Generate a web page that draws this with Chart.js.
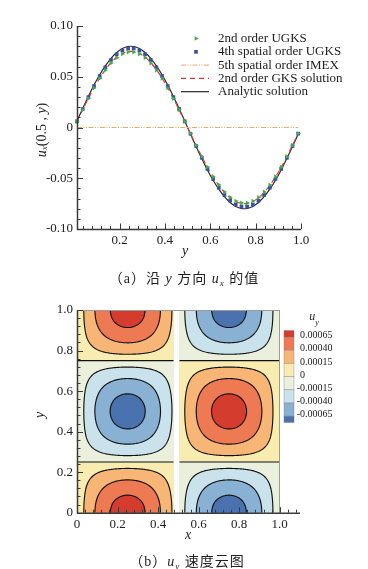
<!DOCTYPE html>
<html>
<head>
<meta charset="utf-8">
<script src="https://cdn.jsdelivr.net/npm/chart.js@4.4.1/dist/chart.umd.min.js"></script>
<style>
  body { margin: 0; background: #fff; }
  #wrap { position: relative; width: 368px; height: 569px; overflow: hidden; background: #fff; }
  #wrap canvas { position: absolute; left: 0; }
  .cap { position: absolute; width: 368px; text-align: center; line-height: 16px; letter-spacing: 1px;
         font: 14px "Liberation Serif", "Noto Sans CJK SC", serif; color: #222; white-space: nowrap; }
  .cap sub { font-size: 9px; vertical-align: -3px; line-height: 0; }
</style>
</head>
<body>
<div id="wrap">
  <canvas id="lineChart" width="368" height="290" style="top:0"></canvas>
  <canvas id="floodChart" width="368" height="279" style="top:290px"></canvas>
  <div class="cap" style="left:0; top:267px">（a）沿 <i>y</i> 方向 <i>u<sub>x</sub></i> 的值</div>
  <div class="cap" style="left:3px; top:550px">（b）<i>u<sub>y</sub></i> 速度云图</div>
</div>
<script>
// ---- (a) u_x(0.5, y) along the vertical centre line, 40 cell centres
const yPos = [0.0125, 0.0375, 0.0625, 0.0875, 0.1125, 0.1375, 0.1625, 0.1875, 0.2125, 0.2375,
  0.2625, 0.2875, 0.3125, 0.3375, 0.3625, 0.3875, 0.4125, 0.4375, 0.4625, 0.4875,
  0.5125, 0.5375, 0.5625, 0.5875, 0.6125, 0.6375, 0.6625, 0.6875, 0.7125, 0.7375,
  0.7625, 0.7875, 0.8125, 0.8375, 0.8625, 0.8875, 0.9125, 0.9375, 0.9625, 0.9875];

const ugks2nd = [0.0058, 0.0174, 0.0285, 0.0389, 0.0484, 0.0566, 0.0635, 0.0688, 0.0724, 0.0743,
  0.0743, 0.0724, 0.0688, 0.0635, 0.0566, 0.0484, 0.0389, 0.0285, 0.0174, 0.0058,
  -0.0058, -0.0174, -0.0285, -0.0389, -0.0484, -0.0566, -0.0635, -0.0688, -0.0724, -0.0743,
  -0.0743, -0.0724, -0.0688, -0.0635, -0.0566, -0.0484, -0.0389, -0.0285, -0.0174, -0.0058];

const ugks4th = [0.0061, 0.0182, 0.0299, 0.0408, 0.0507, 0.0593, 0.0665, 0.0721, 0.0758, 0.0778,
  0.0778, 0.0758, 0.0721, 0.0665, 0.0593, 0.0507, 0.0408, 0.0299, 0.0182, 0.0061,
  -0.0061, -0.0182, -0.0299, -0.0408, -0.0507, -0.0593, -0.0665, -0.0721, -0.0758, -0.0778,
  -0.0778, -0.0758, -0.0721, -0.0665, -0.0593, -0.0507, -0.0408, -0.0299, -0.0182, -0.0061];

const imex5th = [0, 0, 0, 0, 0, 0, 0, 0, 0, 0, 0, 0, 0, 0, 0, 0, 0, 0, 0, 0,
  0, 0, 0, 0, 0, 0, 0, 0, 0, 0, 0, 0, 0, 0, 0, 0, 0, 0, 0, 0];

const gks2nd = [0.0059, 0.0175, 0.0287, 0.0392, 0.0487, 0.0570, 0.0639, 0.0693, 0.0729, 0.0748,
  0.0748, 0.0729, 0.0693, 0.0639, 0.0570, 0.0487, 0.0392, 0.0287, 0.0175, 0.0059,
  -0.0059, -0.0175, -0.0287, -0.0392, -0.0487, -0.0570, -0.0639, -0.0693, -0.0729, -0.0748,
  -0.0748, -0.0729, -0.0693, -0.0639, -0.0570, -0.0487, -0.0392, -0.0287, -0.0175, -0.0059];

const analytic = [0.0063, 0.0187, 0.0306, 0.0418, 0.0520, 0.0608, 0.0682, 0.0739, 0.0778, 0.0798,
  0.0798, 0.0778, 0.0739, 0.0682, 0.0608, 0.0520, 0.0418, 0.0306, 0.0187, 0.0063,
  -0.0063, -0.0187, -0.0306, -0.0418, -0.0520, -0.0608, -0.0682, -0.0739, -0.0778, -0.0798,
  -0.0798, -0.0778, -0.0739, -0.0682, -0.0608, -0.0520, -0.0418, -0.0306, -0.0187, -0.0063];

const xTicksTop = [0.2, 0.4, 0.6, 0.8, 1.0];
const xTickLabelsTop = ['0.2', '0.4', '0.6', '0.8', '1.0'];
const yTicksTop = [-0.1, -0.05, 0, 0.05, 0.1];
const yTickLabelsTop = ['-0.10', '-0.05', '0', '0.05', '0.10'];

// ---- (b) u_y flood: field read as amplitude * column profile * row profile
const fieldAmp = 0.00076;
const profilePos = [0, 0.05, 0.1, 0.15, 0.2, 0.25, 0.3, 0.35, 0.4, 0.45, 0.5,
  0.55, 0.6, 0.65, 0.7, 0.75, 0.8, 0.85, 0.9, 0.95, 1.0];
const xProfile = [0, 0.309, 0.588, 0.809, 0.951, 1, 0.951, 0.809, 0.588, 0.309, 0,
  -0.309, -0.588, -0.809, -0.951, -1, -0.951, -0.809, -0.588, -0.309, 0];
const yProfile = [1, 0.951, 0.809, 0.588, 0.309, 0, -0.309, -0.588, -0.809, -0.951, -1,
  -0.951, -0.809, -0.588, -0.309, 0, 0.309, 0.588, 0.809, 0.951, 1];
const contourLevels = [0.00065, 0.0004, 0.00015, 0, -0.00015, -0.0004, -0.00065];
const levelLabels = ['0.00065', '0.00040', '0.00015', '0', '-0.00015', '-0.00040', '-0.00065'];
const bandColors = ['#d43c2e', '#ee7a54', '#f8b676', '#f9ecb0', '#eaf0dc', '#c9e2ec', '#88b1d3', '#4a72ae'];
const gapFrom = 0.477, gapTo = 0.502;   // blank strip at x = 0.5 in the picture

const xTicksBottom = [0, 0.2, 0.4, 0.6, 0.8, 1.0];
const xTickLabelsBottom = ['0', '0.2', '0.4', '0.6', '0.8', '1.0'];
const yTicksBottom = [0, 0.2, 0.4, 0.6, 0.8, 1.0];
const yTickLabelsBottom = ['0', '0.2', '0.4', '0.6', '0.8', '1.0'];

const SERIF = "'Liberation Serif', 'Times New Roman', serif";
const toXY = arr => arr.map((v, i) => ({ x: yPos[i], y: v }));

// inward ticks + axis lines, Tecplot style
const axisTicks = {
  id: 'axisTicks',
  afterDatasetsDraw(chart, args, o) {
    const { ctx, chartArea: a, scales: { x, y } } = chart;
    ctx.save();
    ctx.strokeStyle = '#3a3a3a';
    ctx.lineWidth = 1;
    ctx.beginPath();
    const minorVals = (s, step) => {
      const out = [];
      for (let k = Math.ceil(s.min / step - 1e-6); k * step <= s.max + 1e-9; k++) out.push(k * step);
      return out;
    };
    const isMajor = (s, v) => s.ticks.some(t => Math.abs(t.value - v) < 1e-6);
    minorVals(x, o.xMinor).forEach(v => {
      if (isMajor(x, v)) return;
      const px = Math.round(x.getPixelForValue(v)) + 0.5;
      ctx.moveTo(px, a.bottom); ctx.lineTo(px, a.bottom - 3);
    });
    x.ticks.forEach(t => {
      const px = Math.round(x.getPixelForValue(t.value)) + 0.5;
      ctx.moveTo(px, a.bottom); ctx.lineTo(px, a.bottom - 5.5);
    });
    const yLeft = Math.round(a.left) + 0.5;
    minorVals(y, o.yMinor).forEach(v => {
      if (isMajor(y, v)) return;
      const py = Math.round(y.getPixelForValue(v)) + 0.5;
      ctx.moveTo(yLeft, py); ctx.lineTo(yLeft + 3, py);
    });
    y.ticks.forEach(t => {
      const py = Math.round(y.getPixelForValue(t.value)) + 0.5;
      ctx.moveTo(yLeft, py); ctx.lineTo(yLeft + 5.5, py);
    });
    ctx.stroke();
    ctx.lineWidth = 1.5;
    ctx.beginPath();
    ctx.moveTo(yLeft, a.top); ctx.lineTo(yLeft, a.bottom + 0.5);
    ctx.lineTo(a.right, a.bottom + 0.5);
    ctx.stroke();
    ctx.restore();
  }
};

// rich axis titles (italic / subscripts)
function drawRich(ctx, parts, cx, cy, rotate) {
  ctx.save();
  ctx.translate(cx, cy);
  if (rotate) ctx.rotate(-Math.PI / 2);
  ctx.fillStyle = '#222';
  ctx.textBaseline = 'middle';
  let total = 0;
  parts.forEach(p => { ctx.font = p.font; total += ctx.measureText(p.t).width; });
  let xx = -total / 2;
  parts.forEach(p => {
    ctx.font = p.font;
    ctx.fillText(p.t, xx, p.dy || 0);
    xx += ctx.measureText(p.t).width;
  });
  ctx.restore();
}

const topDecor = {
  id: 'topDecor',
  afterDraw(chart) {
    const { ctx } = chart;
    // y title  u_x(0.5 , y)
    drawRich(ctx, [
      { t: 'u', font: `italic 14px ${SERIF}` },
      { t: 'x', font: `italic 9px ${SERIF}`, dy: 3 },
      { t: '(0.5 , ', font: `14px ${SERIF}` },
      { t: 'y', font: `italic 14px ${SERIF}` },
      { t: ')', font: `14px ${SERIF}` }
    ], 42, 130, true);
    drawRich(ctx, [{ t: 'y', font: `italic 14px ${SERIF}` }], 185, 251, false);

    // legend, top right
    ctx.save();
    chart.data.datasets.forEach((ds, i) => {
      const yy = 38.5 + i * 13.3;
      if (ds.showLine === false) {
        ctx.fillStyle = ds.pointBackgroundColor;
        ctx.strokeStyle = ds.pointBackgroundColor;
        Chart.helpers.drawPoint(ctx, {
          pointStyle: ds.pointStyle, radius: ds.pointRadius, rotation: ds.rotation || 0, borderWidth: 0
        }, 196, yy);
      } else {
        ctx.strokeStyle = ds.borderColor;
        ctx.lineWidth = ds.borderWidth;
        ctx.setLineDash(ds.borderDash || []);
        ctx.beginPath();
        ctx.moveTo(181, yy); ctx.lineTo(209, yy);
        ctx.stroke();
        ctx.setLineDash([]);
      }
      ctx.fillStyle = '#222';
      ctx.font = `13px ${SERIF}`;
      ctx.textBaseline = 'middle';
      ctx.fillText(ds.label, 218, yy);
    });
    ctx.restore();
  }
};

new Chart(document.getElementById('lineChart'), {
  type: 'line',
  data: {
    datasets: [
      { label: '2nd order UGKS', data: toXY(ugks2nd), showLine: false, pointStyle: 'triangle', rotation: 90,
        pointRadius: 2.7, pointBackgroundColor: '#43ad4c', pointBorderWidth: 0, clip: false },
      { label: '4th spatial order UGKS', data: toXY(ugks4th), showLine: false, pointStyle: 'rect',
        pointRadius: 2.6, pointBackgroundColor: '#3b4fa6', pointBorderWidth: 0, clip: false },
      { label: '5th spatial order IMEX', data: toXY(imex5th), borderColor: '#f3a765', borderWidth: 1,
        borderDash: [5, 1.5, 1, 1.5, 1, 1.5], pointRadius: 0, clip: false },
      { label: '2nd order GKS solution', data: toXY(gks2nd), borderColor: '#e2372f', borderWidth: 1.2,
        borderDash: [5, 4], pointRadius: 0, tension: 0.3, clip: false },
      { label: 'Analytic solution', data: toXY(analytic), borderColor: '#2b2b2b', borderWidth: 1.2,
        pointRadius: 0, tension: 0.3, clip: false }
    ]
  },
  options: {
    responsive: false,
    animation: false,
    events: [],
    layout: { padding: { top: 26, right: 67, bottom: 0, left: 0 } },
    plugins: { legend: { display: false }, tooltip: { enabled: false }, axisTicks: { xMinor: 0.04, yMinor: 0.01 } },
    scales: {
      x: {
        type: 'linear', min: 0.0125, max: 1.0,
        afterBuildTicks: s => { s.ticks = xTicksTop.map(v => ({ value: v })); },
        afterFit: s => { s.height = 61; },
        grid: { display: false, drawTicks: false },
        border: { display: false },
        ticks: { padding: 4, color: '#222', maxRotation: 0, autoSkip: false,
          font: { family: SERIF, size: 13 }, callback: (v, i) => xTickLabelsTop[i] }
      },
      y: {
        type: 'linear', min: -0.1, max: 0.1,
        afterBuildTicks: s => { s.ticks = yTicksTop.map(v => ({ value: v })); },
        afterFit: s => { s.width = 77; },
        grid: { display: false, drawTicks: false },
        border: { display: false },
        ticks: { padding: 4, color: '#222', autoSkip: false,
          font: { family: SERIF, size: 13 }, callback: (v, i) => yTickLabelsTop[i] }
      }
    }
  },
  plugins: [axisTicks, topDecor]
});

// ---- flood contour
function sampleProfile(p, v) {
  const step = profilePos[1] - profilePos[0];
  const t = (v - profilePos[0]) / step;
  const i = Math.floor(t), f = t - i;
  const at = k => p[Math.max(0, Math.min(p.length - 1, k))];
  const p0 = at(i - 1), p1 = at(i), p2 = at(i + 1), p3 = at(i + 2);
  return 0.5 * (2 * p1 + (-p0 + p2) * f + (2 * p0 - 5 * p1 + 4 * p2 - p3) * f * f +
    (-p0 + 3 * p1 - 3 * p2 + p3) * f * f * f);
}
function bandOf(v) {
  for (let k = 0; k < contourLevels.length; k++) if (v > contourLevels[k]) return k;
  return contourLevels.length;
}
const hexRgb = h => [1, 3, 5].map(k => parseInt(h.slice(k, k + 2), 16));

const floodPlugin = {
  id: 'flood',
  beforeDatasetsDraw(chart) {
    const { ctx, scales: { x, y } } = chart;
    const px0 = Math.round(x.getPixelForValue(0)), px1 = Math.round(x.getPixelForValue(1));
    const py0 = Math.round(y.getPixelForValue(1)), py1 = Math.round(y.getPixelForValue(0));
    const w = px1 - px0, h = py1 - py0;
    const colP = [], rowP = [], gap = [];
    for (let i = 0; i < w; i++) {
      const xv = x.getValueForPixel(px0 + i + 0.5);
      colP.push(sampleProfile(xProfile, xv));
      gap.push(xv > gapFrom && xv < gapTo);
    }
    for (let j = 0; j < h; j++) rowP.push(sampleProfile(yProfile, y.getValueForPixel(py0 + j + 0.5)));

    const rgb = bandColors.map(hexRgb);
    const off = document.createElement('canvas');
    off.width = w; off.height = h;
    const octx = off.getContext('2d');
    const img = octx.createImageData(w, h);
    const vals = new Float64Array(w * h);
    for (let j = 0; j < h; j++) {
      for (let i = 0; i < w; i++) {
        const v = fieldAmp * colP[i] * rowP[j];
        vals[j * w + i] = v;
        if (gap[i]) continue;
        const c = rgb[bandOf(v)], k = (j * w + i) * 4;
        img.data[k] = c[0]; img.data[k + 1] = c[1]; img.data[k + 2] = c[2]; img.data[k + 3] = 255;
      }
    }
    octx.putImageData(img, 0, 0);
    ctx.drawImage(off, px0, py0);

    // contour lines, marching squares over the pixel-centre grid
    ctx.save();
    ctx.beginPath();
    const frac = (p, q, l) => (p === q ? 0.5 : Math.min(1, Math.max(0, (l - p) / (q - p))));
    for (let j = 0; j < h - 1; j++) {
      for (let i = 0; i < w - 1; i++) {
        if (gap[i] || gap[i + 1]) continue;
        const a = vals[j * w + i], b = vals[j * w + i + 1];
        const c = vals[(j + 1) * w + i + 1], d = vals[(j + 1) * w + i];
        for (const l of contourLevels) {
          const sa = a >= l, sb = b >= l, sc = c >= l, sd = d >= l;
          const pts = [];
          if (sa !== sb) pts.push([i + frac(a, b, l), j]);
          if (sb !== sc) pts.push([i + 1, j + frac(b, c, l)]);
          if (sd !== sc) pts.push([i + frac(d, c, l), j + 1]);
          if (sa !== sd) pts.push([i, j + frac(a, d, l)]);
          for (let k = 0; k + 1 < pts.length; k += 2) {
            ctx.moveTo(px0 + 0.5 + pts[k][0], py0 + 0.5 + pts[k][1]);
            ctx.lineTo(px0 + 0.5 + pts[k + 1][0], py0 + 0.5 + pts[k + 1][1]);
          }
        }
      }
    }
    ctx.strokeStyle = '#111';
    ctx.lineWidth = 1.15;
    ctx.stroke();
    // zone outline
    ctx.strokeStyle = '#9a9a9a';
    ctx.lineWidth = 1;
    ctx.strokeRect(px0 + 0.5, py0 + 0.5, w - 1, h);
    ctx.restore();
  },
  afterDraw(chart) {
    const { ctx } = chart;
    drawRich(ctx, [{ t: 'y', font: `italic 14px ${SERIF}` }], 40, 125, true);
    drawRich(ctx, [{ t: 'x', font: `italic 14px ${SERIF}` }], 188, 245, false);

    // colour bar
    ctx.save();
    const bx = 284, bw = 10, top = 40.5, step = 13.2, first = 47;
    const edges = [top];
    contourLevels.forEach((l, k) => edges.push(first + k * step));
    edges.push(first + (contourLevels.length - 1) * step + 6.3);
    bandColors.forEach((col, k) => {
      ctx.fillStyle = col;
      ctx.fillRect(bx, edges[k], bw, edges[k + 1] - edges[k]);
      ctx.strokeStyle = 'rgba(120,120,120,0.6)';
      ctx.lineWidth = 0.6;
      ctx.strokeRect(bx, edges[k], bw, edges[k + 1] - edges[k]);
    });
    ctx.font = `10px ${SERIF}`;
    ctx.fillStyle = '#222';
    ctx.textBaseline = 'middle';
    levelLabels.forEach((lab, k) => {
      const shift = lab.startsWith('-') ? ctx.measureText('-').width : 0;
      ctx.fillText(lab, 300 - shift, first + k * step - 1.5);
    });
    ctx.restore();
    drawRich(ctx, [{ t: 'u', font: `italic 12px ${SERIF}` }, { t: 'y', font: `italic 8px ${SERIF}`, dy: 6 }], 314, 27, false);
  }
};

new Chart(document.getElementById('floodChart'), {
  type: 'scatter',
  data: { datasets: [] },
  options: {
    responsive: false,
    animation: false,
    events: [],
    layout: { padding: { top: 20, right: 68, bottom: 0, left: 0 } },
    plugins: { legend: { display: false }, tooltip: { enabled: false }, axisTicks: { xMinor: 0.04, yMinor: 0.04 } },
    scales: {
      x: {
        type: 'linear', min: 0, max: 1.1,
        afterBuildTicks: s => { s.ticks = xTicksBottom.map(v => ({ value: v })); },
        afterFit: s => { s.height = 56.3; },
        grid: { display: false, drawTicks: false },
        border: { display: false },
        ticks: { padding: 4, color: '#222', maxRotation: 0, autoSkip: false,
          font: { family: SERIF, size: 13 }, callback: (v, i) => xTickLabelsBottom[i] }
      },
      y: {
        type: 'linear', min: 0, max: 1,
        afterBuildTicks: s => { s.ticks = yTicksBottom.map(v => ({ value: v })); },
        afterFit: s => { s.width = 77; },
        grid: { display: false, drawTicks: false },
        border: { display: false },
        ticks: { padding: 4, color: '#222', autoSkip: false,
          font: { family: SERIF, size: 13 }, callback: (v, i) => yTickLabelsBottom[i] }
      }
    }
  },
  plugins: [floodPlugin, axisTicks]
});
</script>
</body>
</html>
